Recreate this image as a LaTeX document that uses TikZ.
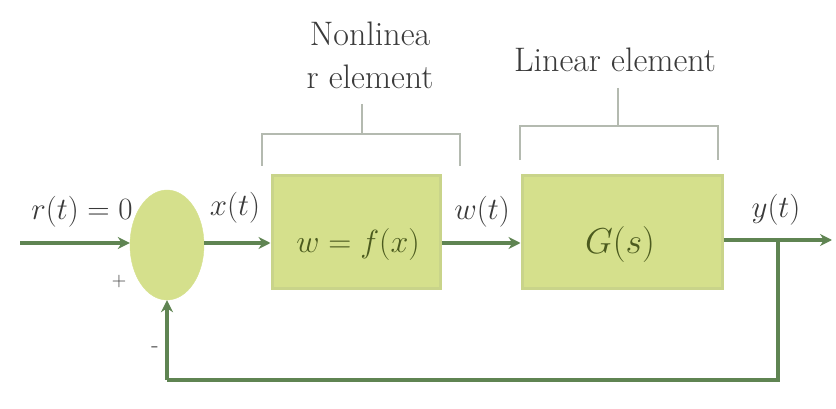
\RequirePackage{fix-cm}
\documentclass[tikz,border=0pt]{standalone}
\usetikzlibrary{arrows.meta,shapes.geometric}
\definecolor{blockfill}{HTML}{D5E08C}
\definecolor{blockedge}{HTML}{C9D48A}
\definecolor{linegreen}{HTML}{5F8452}
\definecolor{bracegray}{HTML}{B4BAB0}
\definecolor{labelgray}{HTML}{3A3A3A}
\definecolor{olive}{HTML}{4B5A1E}
\begin{document}
\begin{tikzpicture}[x=1pt,y=-1pt,
  block/.style={draw=blockedge,line width=3pt,fill=blockfill,minimum width=#1,minimum height=112pt,inner sep=0pt},
  sumnode/.style={ellipse,fill=blockfill,draw=blockfill,minimum width=74pt,minimum height=110pt,inner sep=0pt},
  sig/.style={draw=linegreen,line width=4pt,-{Stealth[length=12pt,width=12pt]}},
  wire/.style={draw=linegreen,line width=4pt},
  brace/.style={draw=bracegray,line width=2.5pt},
  lab/.style={text=labelgray,font=\fontsize{31}{34}\selectfont},
  blab/.style={text=olive,font=\fontsize{32}{36}\selectfont},
  toplab/.style={text=labelgray,font=\fontsize{34}{43}\selectfont,align=center}]
\useasboundingbox (0,0) rectangle (836,409);
\node[sumnode] (sum) at (167,245) {};
\node[block=168pt] (nl) at (356,232) {};
\node[blab] (nltext) at (358,245) {$w=f(x)$};
\node[block=200pt] (lin) at (622,232) {};
\node[blab,font=\fontsize{36}{40}\selectfont] (lintext) at (620,245) {$G(s)$};
\coordinate (in) at (20,243);
\coordinate (out) at (832,240);
\coordinate (tap) at (778,240);
\coordinate (fbr) at (778,380);
\coordinate (fbl) at (167,380);
\draw[sig] (in) -- (sum.west |- in);
\draw[sig] (sum.east |- 0,243) -- (nl.west |- 0,243);
\draw[sig] (nl.east |- 0,243) -- (lin.west |- 0,243);
\draw[sig] (lin.east |- out) -- (out);
\draw[wire] (tap) -- (fbr) -- (fbl);
\draw[sig] (fbl) -- (sum.south);
\node[lab] (rlab) at (82,212) {$r(t)=0$};
\node[lab] (xlab) at (235,208) {$x(t)$};
\node[lab] (wlab) at (482,212) {$w(t)$};
\node[lab] (ylab) at (776,210) {$y(t)$};
\node[text=labelgray,font=\fontsize{20}{22}\selectfont] (plus) at (119,282) {+};
\node[text=labelgray,font=\fontsize{24}{26}\selectfont] (minus) at (155,350) {-};
\node[toplab] (nltitle) at (370,55) {Nonlinea\\r element};
\node[toplab] (lintitle) at (615,60) {Linear element};
\coordinate (nlstem) at (362,104);
\draw[brace] (262,166) -- (262,134) -- (460,134) -- (460,166);
\draw[brace] (nlstem) -- (362,134);
\draw[brace] (520,160) -- (520,126) -- (718,126) -- (718,160);
\draw[brace] (618,88) -- (618,126);
\end{tikzpicture}
\end{document}
